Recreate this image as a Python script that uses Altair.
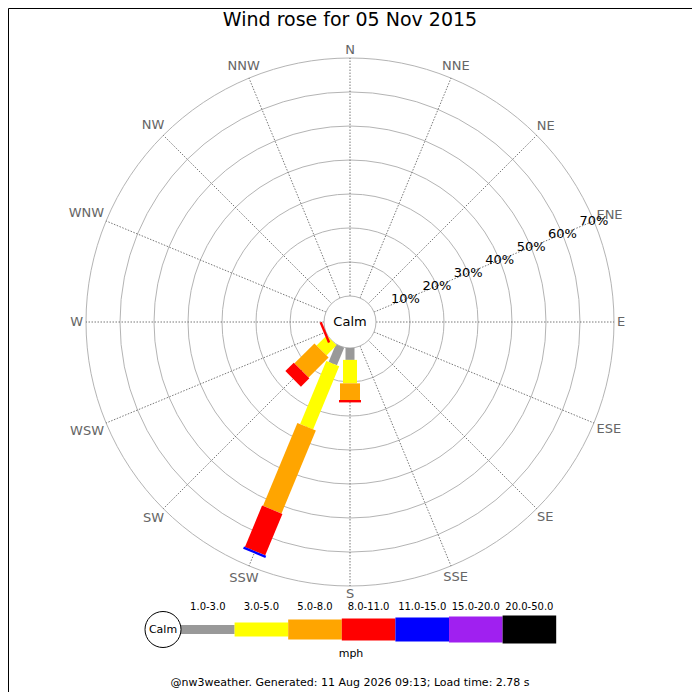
import altair as alt
import pandas as pd
import numpy as np

# ---------------- data ----------------
directions = ["N", "NNE", "NE", "ENE", "E", "ESE", "SE", "SSE",
              "S", "SSW", "SW", "WSW", "W", "WNW", "NW", "NNW"]
speed_bins = ["1.0-3.0", "3.0-5.0", "5.0-8.0", "8.0-11.0",
              "11.0-15.0", "15.0-20.0", "20.0-50.0"]

# % of the day per direction (N ... NNW) for each speed bin
pct_1_3   = [0, 0, 0, 0, 0, 0, 0, 0, 3.5, 5.6, 0.0, 0.0, 0, 0, 0, 0]
pct_3_5   = [0, 0, 0, 0, 0, 0, 0, 0, 6.9, 20.1, 4.2, 0.0, 0, 0, 0, 0]
pct_5_8   = [0, 0, 0, 0, 0, 0, 0, 0, 4.9, 26.4, 8.3, 0.0, 0, 0, 0, 0]
pct_8_11  = [0, 0, 0, 0, 0, 0, 0, 0, 0.7, 13.2, 3.5, 0.7, 0, 0, 0, 0]
pct_11_15 = [0, 0, 0, 0, 0, 0, 0, 0, 0.0, 0.7, 0.0, 0.0, 0, 0, 0, 0]
pct_15_20 = [0, 0, 0, 0, 0, 0, 0, 0, 0.0, 0.0, 0.0, 0.0, 0, 0, 0, 0]
pct_20_50 = [0, 0, 0, 0, 0, 0, 0, 0, 0.0, 0.0, 0.0, 0.0, 0, 0, 0, 0]
series = [pct_1_3, pct_3_5, pct_5_8, pct_8_11, pct_11_15, pct_15_20, pct_20_50]

ring_pcts = [10, 20, 30, 40, 50, 60, 70]

title_text = "Wind rose for 05 Nov 2015"
footer_text = "@nw3weather. Generated: 11 Aug 2026 09:13; Load time: 2.78 s"
unit_text = "mph"
calm_text = "Calm"

# ---------------- styles / layout ----------------
bin_colors = ["#999999", "#ffff00", "#ffa500", "#ff0000", "#0000ff", "#a020f0", "#000000"]
bin_widths = [9, 14, 20, 22, 24, 26, 28]

FONT = "DejaVu Sans"
PX = 3.4            # pixels per percent
CALM_PX = 26        # calm circle radius in px
CALM = CALM_PX / PX
OUTER = 70
W = H = 684
CX, CY = 342, 314   # centre of the rose inside the canvas
XMIN, XMAX = -CX / PX, (W - CX) / PX
YMIN, YMAX = -(H - CY) / PX, CY / PX


def ux(page_px):
    return (page_px - 8 - CX) / PX


def uy(page_py):
    return (8 + CY - page_py) / PX


def X(field):
    return alt.X(field, type="quantitative", axis=None,
                 scale=alt.Scale(domain=[XMIN, XMAX], nice=False, zero=False))


def Y(field):
    return alt.Y(field, type="quantitative", axis=None,
                 scale=alt.Scale(domain=[YMIN, YMAX], nice=False, zero=False))


# ---------------- tables ----------------
rows = []
for i, d in enumerate(directions):
    cum = 0.0
    for j, b in enumerate(speed_bins):
        v = series[j][i]
        if v > 0:
            rows.append({"dir": d, "angle": 22.5 * i, "bin": b, "order": j,
                         "r0": CALM + cum, "r1": CALM + cum + v,
                         "w": bin_widths[j]})
        cum += v
bars_df = pd.DataFrame(rows)

# label centre radius: just outside the outer ring plus half the text box
CHAR_W = {"N": 9.7, "E": 8.2, "S": 8.3, "W": 12.9}
dirs_df = pd.DataFrame({"dir": directions,
                        "angle": [22.5 * i for i in range(len(directions))]})
lab_r = []
for i, d in enumerate(directions):
    a = np.deg2rad(22.5 * i)
    w = sum(CHAR_W[ch] for ch in d)
    lab_r.append((267 + w / 2 * abs(np.sin(a)) + 4.8 * abs(np.cos(a))) / PX)
dirs_df["lr"] = lab_r

rings_df = pd.DataFrame({"pct": ring_pcts})
rings_df["size"] = (2 * (CALM_PX + rings_df["pct"] * PX)) ** 2
rings_df["x"] = 0.0
rings_df["y"] = 0.0

S_EXPR = "sin(datum.angle*PI/180)"
C_EXPR = "cos(datum.angle*PI/180)"

# ---------------- layers ----------------
rings = alt.Chart(rings_df).mark_point(
    shape="circle", filled=False, color="#b4b4b4", strokeWidth=1, opacity=1
).encode(x=X("x"), y=Y("y"), size=alt.Size("size:Q", scale=None, legend=None))

spokes = alt.Chart(dirs_df).transform_calculate(
    x0=f"{CALM}*{S_EXPR}", y0=f"{CALM}*{C_EXPR}",
    x1=f"{CALM + OUTER}*{S_EXPR}", y1=f"{CALM + OUTER}*{C_EXPR}"
).mark_rule(color="#555555", strokeWidth=0.8, strokeDash=[1.5, 1.5]).encode(
    x=X("x0"), y=Y("y0"), x2="x1", y2="y1")

calm_df = pd.DataFrame({"t": [calm_text], "x": [0.0], "y": [0.0]})
calm_circle = alt.Chart(calm_df).mark_point(
    shape="circle", filled=True, fill="white", stroke="#b4b4b4", strokeWidth=1,
    opacity=1, size=(2 * CALM_PX) ** 2
).encode(x=X("x"), y=Y("y"))

calm_label = alt.Chart(calm_df).mark_text(
    font=FONT, fontSize=13, color="black", align="center", baseline="middle"
).encode(x=X("x"), y=Y("y"), text="t:N")

bars = alt.Chart(bars_df).transform_calculate(
    x0=f"datum.r0*{S_EXPR}", y0=f"datum.r0*{C_EXPR}",
    x1=f"datum.r1*{S_EXPR}", y1=f"datum.r1*{C_EXPR}"
).mark_rule(strokeCap="butt", opacity=1).encode(
    x=X("x0"), y=Y("y0"), x2="x1", y2="y1",
    color=alt.Color("bin:N", scale=alt.Scale(domain=speed_bins, range=bin_colors), legend=None),
    size=alt.Size("w:Q", scale=None, legend=None))

dir_labels = alt.Chart(dirs_df).transform_calculate(
    x=f"datum.lr*{S_EXPR}", y=f"datum.lr*{C_EXPR}"
).mark_text(font=FONT, fontSize=13, color="#666666", align="center", baseline="middle"
).encode(x=X("x"), y=Y("y"), text="dir:N")

pct_df = pd.DataFrame({"pct": ring_pcts, "label": [f"{p}%" for p in ring_pcts]})
pct_labels = alt.Chart(pct_df).transform_calculate(
    x=f"({CALM}+datum.pct)*sin(67.5*PI/180)", y=f"({CALM}+datum.pct)*cos(67.5*PI/180)"
).mark_text(font=FONT, fontSize=13, color="black", align="center", baseline="middle"
).encode(x=X("x"), y=Y("y"), text="label:N")

# ---------------- legend ----------------
LEG_X0, LEG_SEG, LEG_Y = 181, 53.6, 629.5
leg_df = pd.DataFrame({"bin": speed_bins, "w": bin_widths, "order": list(range(len(speed_bins)))})
leg_df["x0"] = [ux(LEG_X0 + LEG_SEG * k) for k in leg_df["order"]]
leg_df["x1"] = [ux(LEG_X0 + LEG_SEG * (k + 1)) for k in leg_df["order"]]
leg_df["xm"] = (leg_df["x0"] + leg_df["x1"]) / 2
leg_df["y"] = uy(LEG_Y)
leg_df["yt"] = uy(607)

leg_bars = alt.Chart(leg_df).mark_rule(strokeCap="butt", opacity=1).encode(
    x=X("x0"), x2="x1", y=Y("y"),
    color=alt.Color("bin:N", scale=alt.Scale(domain=speed_bins, range=bin_colors), legend=None),
    size=alt.Size("w:Q", scale=None, legend=None))

leg_text = alt.Chart(leg_df).mark_text(
    font=FONT, fontSize=10, color="black", align="center", baseline="middle"
).encode(x=X("xm"), y=Y("yt"), text="bin:N")

leg_calm_df = pd.DataFrame({"t": [calm_text], "x": [ux(163)], "y": [uy(LEG_Y)]})
leg_calm = alt.Chart(leg_calm_df).mark_point(
    shape="circle", filled=True, fill="white", stroke="black", strokeWidth=1,
    opacity=1, size=36 ** 2).encode(x=X("x"), y=Y("y"))
leg_calm_t = alt.Chart(leg_calm_df).mark_text(
    font=FONT, fontSize=11, color="black", align="center", baseline="middle"
).encode(x=X("x"), y=Y("y"), text="t:N")

misc_df = pd.DataFrame({"t": [unit_text, footer_text],
                        "x": [ux(351), ux(350)], "y": [uy(654), uy(683)]})
misc = alt.Chart(misc_df).mark_text(
    font=FONT, fontSize=11, color="black", align="center", baseline="middle"
).encode(x=X("x"), y=Y("y"), text="t:N")

chart = alt.layer(
    rings, spokes, calm_circle, calm_label, dir_labels, bars, pct_labels,
    leg_bars, leg_text, leg_calm, leg_calm_t, misc
).properties(
    width=W, height=H,
    autosize=alt.AutoSizeParams(type="none"),
    padding=0,
    title=alt.TitleParams(text=title_text, font=FONT, fontSize=19, fontWeight="normal",
                          color="black", anchor="middle", offset=-22)
).configure_view(stroke="black", strokeWidth=1)

chart.save("out.html", embed_options={"renderer": "svg", "actions": False})
